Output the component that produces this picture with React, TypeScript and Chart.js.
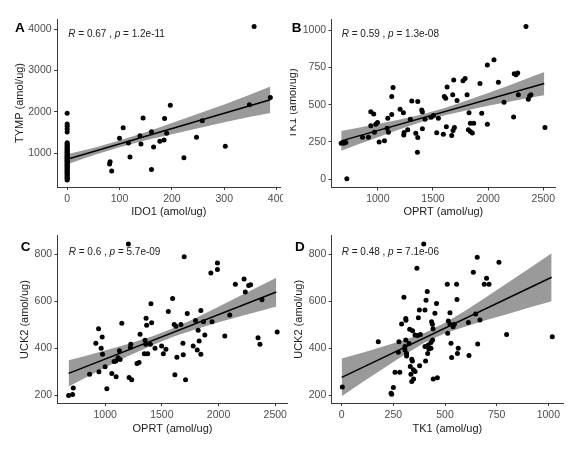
import React, { useEffect, useRef } from "react";
import { Chart, registerables } from "chart.js";

Chart.register(...registerables);

const FONT = "'Liberation Sans', Arial, sans-serif";

// ---------------- Panel A : IDO1 vs TYMP ----------------
const A_TYMP_AT_IDO1_ZERO = [
  1964, 1702, 1648, 1583, 1512, 1252, 1228, 1196, 1171, 1139, 1112, 1086, 1063, 1031, 1012,
  987, 958, 941, 913, 896, 871, 849, 826, 802, 781, 758, 733, 716, 689, 668, 641, 622, 597,
  571, 548, 523, 497, 474, 446, 421, 398, 372, 346,
];
const A_IDO1 = [81, 82, 85, 100, 107, 117, 120, 139, 141, 145, 161, 161, 165, 177, 185, 186, 190, 197, 223, 247, 258, 302, 348, 357, 388];
const A_TYMP = [733, 790, 564, 1356, 1615, 1243, 903, 1421, 1219, 1850, 1518, 604, 1146, 1283, 1316, 1834, 1478, 2157, 887, 1381, 1785, 1162, 2173, 4067, 2343];
const A_FIT_X = [0, 388];
const A_FIT_Y = [850, 2290];
const A_BAND_X = [0, 50, 100, 150, 200, 250, 300, 350, 388];
const A_BAND_UPPER = [970, 1124, 1301, 1502, 1727, 1953, 2178, 2419, 2610];
const A_BAND_LOWER = [730, 948, 1141, 1312, 1457, 1603, 1748, 1879, 1970];
const A_X_TICKS = [0, 100, 200, 300, 400];
const A_Y_TICKS = [1000, 2000, 3000, 4000];

// ---------------- Panel B : OPRT vs TK1 ----------------
const B_OPRT = [668, 692, 710, 719, 861, 915, 936, 963, 936, 969, 981, 997, 1012, 1060, 1084, 1090, 1096, 1126, 1126, 1138, 1202, 1232, 1235, 1238, 1271, 1295, 1308, 1344, 1362, 1362, 1359, 1398, 1404, 1404, 1428, 1483, 1504, 1534, 1549, 1594, 1603, 1615, 1621, 1628, 1670, 1682, 1694, 1679, 1688, 1718, 1772, 1791, 1809, 1827, 1821, 1839, 1857, 1839, 1869, 1926, 1942, 1993, 1993, 2053, 2093, 2144, 2231, 2237, 2253, 2268, 2274, 2343, 2364, 2376, 2388, 2515];
const B_TK1 = [241, 241, 246, 2, 282, 282, 452, 438, 358, 315, 369, 380, 250, 257, 342, 409, 315, 434, 555, 615, 470, 445, 297, 313, 331, 402, 525, 308, 521, 280, 181, 465, 450, 338, 402, 416, 427, 311, 409, 302, 555, 543, 351, 619, 293, 326, 347, 566, 666, 528, 660, 675, 566, 445, 331, 320, 309, 376, 376, 642, 443, 369, 767, 801, 651, 517, 418, 707, 700, 713, 566, 1024, 537, 559, 566, 347];
const B_FIT_X = [668, 2509];
const B_FIT_Y = [257, 642];
const B_BAND_X = [668, 800, 1000, 1200, 1400, 1600, 1800, 2000, 2200, 2400, 2509];
const B_BAND_UPPER = [324, 342, 370, 401, 434, 476, 527, 578, 632, 689, 720];
const B_BAND_LOWER = [190, 228, 282, 335, 386, 428, 461, 492, 522, 549, 564];
const B_X_TICKS = [1000, 1500, 2000, 2500];
const B_Y_TICKS = [0, 250, 500, 750, 1000];

// ---------------- Panel C : OPRT vs UCK2 ----------------
const C_OPRT = [678, 713, 719, 863, 918, 942, 945, 965, 974, 977, 1000, 1015, 1059, 1079, 1094, 1097, 1114, 1132, 1126, 1147, 1205, 1211, 1234, 1226, 1223, 1281, 1299, 1308, 1352, 1358, 1346, 1375, 1361, 1366, 1404, 1410, 1399, 1440, 1498, 1513, 1536, 1557, 1595, 1609, 1624, 1615, 1633, 1668, 1686, 1689, 1697, 1709, 1724, 1776, 1797, 1812, 1820, 1829, 1844, 1844, 1867, 1879, 1943, 1932, 1990, 1990, 2055, 2099, 2148, 2225, 2236, 2266, 2283, 2383, 2348, 2365, 2517];
const C_UCK2 = [199, 203, 231, 290, 421, 483, 300, 400, 448, 375, 321, 228, 293, 344, 346, 279, 360, 352, 389, 506, 843, 276, 266, 417, 403, 335, 339, 460, 434, 417, 377, 377, 528, 498, 589, 508, 417, 400, 410, 377, 396, 556, 612, 501, 494, 287, 362, 501, 421, 372, 789, 266, 548, 410, 518, 393, 477, 431, 375, 560, 513, 456, 513, 720, 762, 735, 452, 541, 672, 694, 639, 667, 670, 606, 445, 417, 469];
const C_FIT_X = [678, 2509];
const C_FIT_Y = [293, 639];
const C_BAND_X = [678, 800, 1000, 1200, 1400, 1600, 1800, 2000, 2200, 2400, 2509];
const C_BAND_UPPER = [349, 364, 390, 418, 448, 485, 529, 576, 625, 673, 700];
const C_BAND_LOWER = [237, 268, 318, 366, 410, 449, 481, 510, 537, 563, 578];
const C_X_TICKS = [1000, 1500, 2000, 2500];
const C_Y_TICKS = [200, 400, 600, 800];

// ---------------- Panel D : TK1 vs UCK2 ----------------
const D_TK1 = [3, 177, 239, 242, 250, 258, 281, 274, 277, 290, 301, 306, 310, 311, 310, 314, 314, 306, 326, 329, 332, 335, 339, 342, 343, 339, 347, 348, 355, 364, 355, 368, 371, 376, 377, 381, 397, 403, 406, 403, 408, 414, 416, 419, 422, 432, 432, 435, 439, 442, 443, 440, 451, 459, 463, 511, 513, 516, 524, 524, 529, 532, 539, 545, 556, 558, 560, 564, 613, 616, 637, 648, 656, 658, 669, 690, 701, 713, 761, 798, 1019];
const D_UCK2 = [234, 427, 207, 203, 232, 297, 297, 382, 427, 502, 616, 406, 526, 518, 434, 377, 366, 392, 419, 480, 321, 288, 257, 345, 473, 352, 307, 268, 300, 739, 455, 453, 529, 562, 325, 458, 843, 562, 345, 406, 603, 640, 377, 413, 396, 399, 424, 512, 501, 482, 268, 434, 548, 589, 273, 671, 463, 515, 501, 550, 420, 360, 491, 501, 671, 607, 377, 399, 509, 368, 722, 545, 786, 417, 519, 671, 697, 671, 765, 458, 448];
const D_FIT_X = [0, 1016];
const D_FIT_Y = [275, 701];
const D_BAND_X = [0, 100, 200, 300, 400, 500, 600, 700, 800, 900, 1016];
const D_BAND_UPPER = [355, 380, 406, 433, 464, 507, 560, 617, 676, 734, 803];
const D_BAND_LOWER = [195, 254, 312, 369, 422, 463, 492, 519, 544, 570, 599];
const D_X_TICKS = [0, 250, 500, 750, 1000];
const D_Y_TICKS = [200, 400, 600, 800];

// ---------------- Labels ----------------
const PANEL_LETTERS = ["A", "B", "C", "D"];
const STAT_R = ["0.67", "0.59", "0.6", "0.48"];
const STAT_P = ["1.2e-11", "1.3e-08", "5.7e-09", "7.1e-06"];
const X_TITLES = ["IDO1 (amol/ug)", "OPRT (amol/ug)", "OPRT (amol/ug)", "TK1 (amol/ug)"];
const Y_TITLES = ["TYMP (amol/ug)", "TK1 (amol/ug)", "UCK2 (amol/ug)", "UCK2 (amol/ug)"];

const zip = (xs: number[], ys: number[]) => xs.map((x, i) => ({ x, y: ys[i] }));

type Spec = {
  idx: number;
  left: number; top: number; W: number; H: number;
  area: { left: number; top: number; right: number; bottom: number };
  xRange: [number, number]; yRange: [number, number];
  xTicks: number[]; yTicks: number[];
  points: { x: number; y: number }[];
  fit: { x: number; y: number }[];
  upper: { x: number; y: number }[];
  lower: { x: number; y: number }[];
  yTitleX: number; xTitleY: number;
  letterX: number; letterY: number;
  statX: number; statY: number;
};

const SPECS: Spec[] = [
  {
    idx: 0, left: 0, top: 0, W: 283, H: 227,
    area: { left: 57, top: 19, right: 282.5, bottom: 187 },
    xRange: [-19.4, 407.4], yRange: [177, 4248],
    xTicks: A_X_TICKS, yTicks: A_Y_TICKS,
    points: [...A_TYMP_AT_IDO1_ZERO.map((y) => ({ x: 0, y })), ...zip(A_IDO1, A_TYMP)],
    fit: zip(A_FIT_X, A_FIT_Y), upper: zip(A_BAND_X, A_BAND_UPPER), lower: zip(A_BAND_X, A_BAND_LOWER),
    yTitleX: 19.5, xTitleY: 212, letterX: 15, letterY: 28.7, statX: 68.3, statY: 34.5,
  },
  {
    idx: 1, left: 290, top: 0, W: 293, H: 227,
    area: { left: 41.5, top: 19, right: 265.2, bottom: 187.5 },
    xRange: [580, 2608], yRange: [-56, 1075],
    xTicks: B_X_TICKS, yTicks: B_Y_TICKS,
    points: zip(B_OPRT, B_TK1),
    fit: zip(B_FIT_X, B_FIT_Y), upper: zip(B_BAND_X, B_BAND_UPPER), lower: zip(B_BAND_X, B_BAND_LOWER),
    yTitleX: 3, xTitleY: 212, letterX: 1.7, letterY: 28, statX: 51.7, statY: 34.5,
  },
  {
    idx: 2, left: 0, top: 227, W: 290, H: 227,
    area: { left: 57.5, top: 8.8, right: 288, bottom: 176.3 },
    xRange: [580, 2608], yRange: [166, 878],
    xTicks: C_X_TICKS, yTicks: C_Y_TICKS,
    points: zip(C_OPRT, C_UCK2),
    fit: zip(C_FIT_X, C_FIT_Y), upper: zip(C_BAND_X, C_BAND_UPPER), lower: zip(C_BAND_X, C_BAND_LOWER),
    yTitleX: 25, xTitleY: 201.5, letterX: 20.7, letterY: 20, statX: 68.7, statY: 25.3,
  },
  {
    idx: 3, left: 290, top: 227, W: 293, H: 227,
    area: { left: 41.7, top: 8.7, right: 273, bottom: 176 },
    xRange: [-48.4, 1071], yRange: [166, 878],
    xTicks: D_X_TICKS, yTicks: D_Y_TICKS,
    points: zip(D_TK1, D_UCK2),
    fit: zip(D_FIT_X, D_FIT_Y), upper: zip(D_BAND_X, D_BAND_UPPER), lower: zip(D_BAND_X, D_BAND_LOWER),
    yTitleX: 8.5, xTitleY: 202, letterX: 5, letterY: 20, statX: 51.7, statY: 25.3,
  },
];

const TICK_FONT = 10.5;
const TITLE_FONT = 11;
const AXIS_COLOR = "#3a3a3a";
const BAND_COLOR = "#9a9a9a";

function Panel({ spec }: { spec: Spec }) {
  const ref = useRef<HTMLCanvasElement>(null);
  useEffect(() => {
    const canvas = ref.current;
    if (!canvas) return;
    const { W, H, area } = spec;
    const half = (TITLE_FONT * 1.2) / 2;

    const textPlugin = {
      id: "panelText",
      afterDraw(chart: any) {
        const ctx = chart.ctx as CanvasRenderingContext2D;
        ctx.save();
        ctx.fillStyle = "#000";
        ctx.textBaseline = "middle";
        ctx.textAlign = "left";
        ctx.font = `bold 13.5px ${FONT}`;
        ctx.fillText(PANEL_LETTERS[spec.idx], spec.letterX, spec.letterY);
        const parts: [string, boolean][] = [
          ["R", true],
          [" = " + STAT_R[spec.idx] + " , ", false],
          ["p", true],
          [" = " + STAT_P[spec.idx], false],
        ];
        let x = spec.statX;
        ctx.fillStyle = "#222";
        for (const [t, it] of parts) {
          ctx.font = `${it ? "italic " : ""}10px ${FONT}`;
          ctx.fillText(t, x, spec.statY);
          x += ctx.measureText(t).width;
        }
        ctx.restore();
      },
    };

    const chart = new Chart(canvas, {
      type: "scatter",
      data: {
        datasets: [
          {
            data: spec.points,
            pointRadius: 2.5,
            pointHoverRadius: 2.5,
            pointBackgroundColor: "#000",
            pointBorderWidth: 0,
            borderColor: "#000",
          } as any,
          {
            type: "line",
            data: spec.fit,
            borderColor: "#000",
            borderWidth: 1.5,
            pointRadius: 0,
            showLine: true,
            fill: false,
          } as any,
          {
            type: "line",
            data: spec.upper,
            borderColor: "rgba(0,0,0,0)",
            borderWidth: 0,
            pointRadius: 0,
            showLine: true,
            fill: false,
          } as any,
          {
            type: "line",
            data: spec.lower,
            borderColor: "rgba(0,0,0,0)",
            borderWidth: 0,
            pointRadius: 0,
            showLine: true,
            fill: "-1",
            backgroundColor: BAND_COLOR,
          } as any,
        ],
      },
      options: {
        responsive: false,
        animation: false,
        devicePixelRatio: 1,
        events: [],
        layout: { padding: { left: 0, top: area.top, right: W - area.right, bottom: 0 } },
        plugins: { legend: { display: false }, tooltip: { enabled: false } },
        scales: {
          x: {
            type: "linear",
            min: spec.xRange[0],
            max: spec.xRange[1],
            afterBuildTicks: (s: any) => {
              s.ticks = spec.xTicks.map((v) => ({ value: v }));
            },
            afterFit: (s: any) => {
              s.height = H - area.bottom;
              s.paddingLeft = 0;
              s.paddingRight = 0;
            },
            grid: { display: true, drawOnChartArea: false, drawTicks: true, tickLength: 3, color: AXIS_COLOR, lineWidth: 1 },
            border: { display: true, color: AXIS_COLOR, width: 1 },
            ticks: {
              autoSkip: false, maxRotation: 0, minRotation: 0, padding: 2.4,
              color: "#4d4d4d", font: { family: FONT, size: TICK_FONT },
              callback: (v: any) => String(v),
            },
            title: {
              display: true, text: X_TITLES[spec.idx], color: "#1a1a1a",
              font: { family: FONT, size: TITLE_FONT },
              padding: { top: 0, bottom: H - spec.xTitleY - half },
            },
          },
          y: {
            type: "linear",
            min: spec.yRange[0],
            max: spec.yRange[1],
            afterBuildTicks: (s: any) => {
              s.ticks = spec.yTicks.map((v) => ({ value: v }));
            },
            afterFit: (s: any) => {
              s.width = area.left;
              s.paddingTop = 0;
              s.paddingBottom = 0;
            },
            grid: { display: true, drawOnChartArea: false, drawTicks: true, tickLength: 3, color: AXIS_COLOR, lineWidth: 1 },
            border: { display: true, color: AXIS_COLOR, width: 1 },
            ticks: {
              autoSkip: false, padding: 2.4,
              color: "#4d4d4d", font: { family: FONT, size: TICK_FONT },
              callback: (v: any) => String(v),
            },
            title: {
              display: true, text: Y_TITLES[spec.idx], color: "#1a1a1a",
              font: { family: FONT, size: TITLE_FONT },
              padding: { top: spec.yTitleX - half, bottom: 0 },
            },
          },
        },
      } as any,
      plugins: [textPlugin],
    });
    return () => chart.destroy();
  }, [spec]);

  return (
    <div
      style={{
        position: "absolute",
        left: spec.left,
        top: spec.top,
        width: spec.W,
        height: spec.H,
        overflow: "hidden",
      }}
    >
      <canvas ref={ref} width={spec.W} height={spec.H} style={{ width: spec.W, height: spec.H, display: "block" }} />
    </div>
  );
}

export default function App() {
  return (
    <div style={{ position: "absolute", left: 0, top: 0, width: 583, height: 454, background: "#fff" }}>
      {SPECS.map((s) => (
        <Panel key={s.idx} spec={s} />
      ))}
    </div>
  );
}
